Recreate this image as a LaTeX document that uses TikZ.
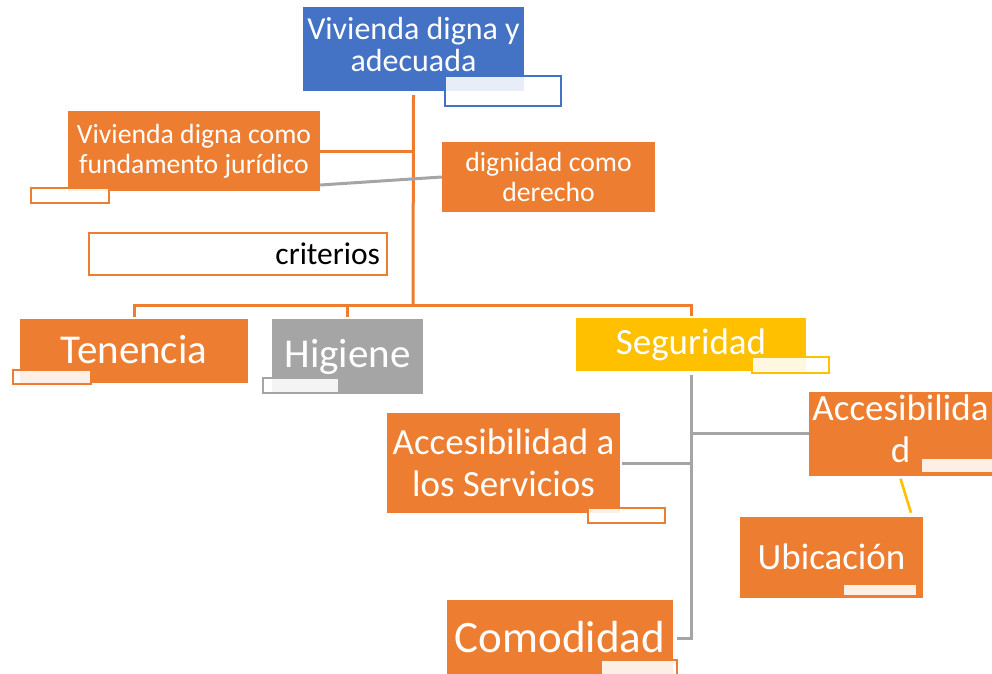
\documentclass[tikz,border=0pt]{standalone}
\usepackage{fontspec}
\setmainfont{Carlito}
\definecolor{cblue}{HTML}{4472C4}
\definecolor{corange}{HTML}{ED7D31}
\definecolor{cgray}{HTML}{A5A5A5}
\definecolor{cyellow}{HTML}{FFC000}
\begin{document}
\begin{tikzpicture}[x=1pt,y=-1pt,
 box/.style={rectangle, inner sep=0pt, text=white, align=center},
 tag/.style={rectangle, inner sep=0pt, fill=white, fill opacity=0.88, draw opacity=1, line width=1.8pt},
 oline/.style={corange, line width=3pt},
 gline/.style={cgray, line width=3pt},
 yline/.style={cyellow, line width=2.6pt}]
\useasboundingbox (0,0) rectangle (992,673);
% main boxes
\node[box, fill=cblue, minimum width=221pt, minimum height=84pt, font=\fontsize{32}{32}\selectfont] (top) at (413.5,49) {\raisebox{3pt}{\begin{tabular}{@{}c@{}}Vivienda digna y\\adecuada\end{tabular}}};
\node[tag, draw=cblue, minimum width=116pt, minimum height=30pt] (toptag) at (503,91) {};
\node[box, fill=corange, minimum width=252pt, minimum height=80pt, font=\fontsize{27.7}{30}\selectfont] (fund) at (194,151) {Vivienda digna como\\fundamento jurídico};
\node[tag, draw=corange, minimum width=78pt, minimum height=15pt] (fundtag) at (70,195.5) {};
\node[box, fill=corange, minimum width=213pt, minimum height=70pt, font=\fontsize{27.7}{30}\selectfont] (dig) at (548.5,177) {dignidad como\\derecho};
\node[rectangle, draw=corange, line width=2.6pt, fill=white, minimum width=298pt, minimum height=42pt, inner sep=0pt, text width=284pt, align=right, font=\fontsize{31.5}{32}\selectfont] (crit) at (238,254) {criterios};
\coordinate (j) at (413,305);
% lines top part
\draw[oline] ([yshift=-4pt]top.south) -- (j);
\draw[oline] (fund.east) -- (fund.east -| j);
\draw[gline] ([yshift=-34pt]fund.east) -- (dig.west);
% level 2
\node[box, fill=corange, minimum width=228pt, minimum height=64pt, font=\fontsize{41}{41}\selectfont] (ten) at (134,351) {\raisebox{3pt}{Tenencia}};
\node[tag, draw=corange, minimum width=78pt, minimum height=14pt] (tentag) at (52,377) {};
\node[box, fill=cgray, minimum width=151pt, minimum height=75pt, font=\fontsize{41}{41}\selectfont] (hig) at (347.5,356.5) {Higiene};
\node[tag, draw=cgray, minimum width=76pt, minimum height=15pt] (higtag) at (301,385.5) {};
\node[box, fill=cyellow, minimum width=230pt, minimum height=53pt, font=\fontsize{37}{37}\selectfont] (seg) at (691,344.5) {Seguridad};
\node[tag, draw=cyellow, minimum width=77pt, minimum height=16pt] (segtag) at (790.5,365) {};
\draw[oline] ([yshift=2pt]ten.north) |- (j) -| ([yshift=2pt]seg.north);
\draw[oline] ([yshift=2pt]hig.north) -- (hig.north |- j);
% level 3
\node[box, fill=corange, minimum width=233pt, minimum height=100pt, font=\fontsize{37}{42}\selectfont] (acs) at (503.5,463) {Accesibilidad a\\los Servicios};
\node[tag, draw=corange, minimum width=77pt, minimum height=15pt] (acstag) at (626.5,515.5) {};
\node[box, fill=corange, minimum width=183pt, minimum height=75pt, font=\fontsize{37}{42}\selectfont] (accr) at (900.5,433.5) {\raisebox{2pt}{\begin{tabular}{@{}c@{}}Accesibilida\\d\end{tabular}}};
\node[tag, draw=corange, minimum width=78pt, minimum height=15pt] (accrtag) at (960,465.5) {};
\node[box, fill=corange, minimum width=183pt, minimum height=81pt, font=\fontsize{37}{37}\selectfont] (ubi) at (831.5,557.5) {\raisebox{2pt}{Ubicación}};
\node[tag, draw=corange, minimum width=74pt, minimum height=12pt] (ubitag) at (880,590) {};
\node[box, fill=corange, minimum width=226pt, minimum height=76pt, font=\fontsize{45}{45}\selectfont] (com) at (560,638) {\raisebox{3pt}{Comodidad}};
\node[tag, draw=corange, minimum width=76pt, minimum height=16pt] (comtag) at (639,668) {};
% seguridad tree
\draw[gline] ([yshift=-4pt]seg.south) -- (seg.south |- com.east) -- ([xshift=4pt]com.east);
\draw[gline] (accr.west) -- (accr.west -| seg.south);
\draw[gline] ([xshift=2pt]acs.east) -- (acs.east -| seg.south);
\draw[yline] ([yshift=-3pt]accr.south) -- ([xshift=79.5pt,yshift=4pt]ubi.north);
\end{tikzpicture}
\end{document}
